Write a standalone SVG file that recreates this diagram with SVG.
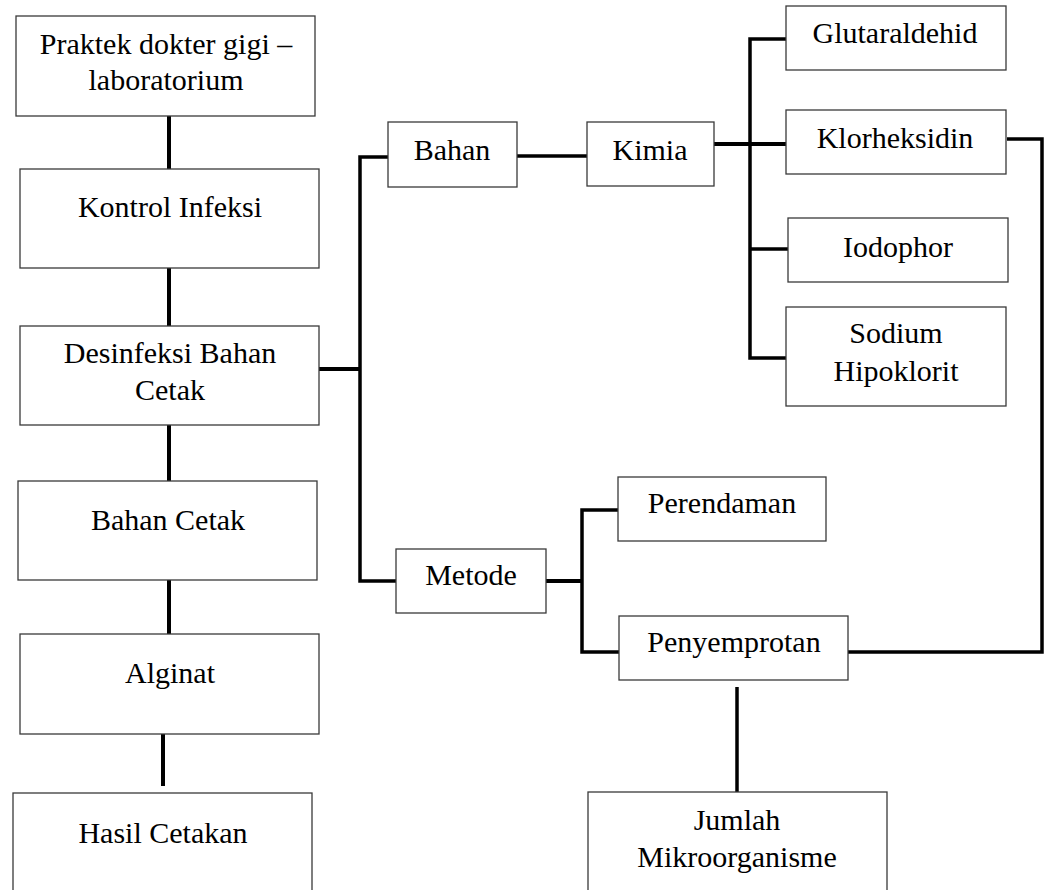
<svg xmlns="http://www.w3.org/2000/svg" width="1051" height="890" viewBox="0 0 1051 890">
  <style>
    .box { fill: #ffffff; stroke: #3a3a3a; stroke-width: 1.3; }
    .lbl { font-family: "Liberation Serif", "Times New Roman", serif; font-size: 30px; fill: #000000; text-anchor: middle; }
    .wire { fill: none; stroke: #000000; stroke-width: 3.5; stroke-linejoin: miter; stroke-linecap: butt; }
    .thick { stroke-width: 4; }
  </style>
  <rect x="0" y="0" width="1051" height="890" fill="#ffffff"/>

  <!-- connectors -->
  <g id="connectors">
    <!-- main vertical chain on the left -->
    <line class="wire thick" x1="169" y1="116" x2="169" y2="169"/>
    <line class="wire thick" x1="169" y1="268" x2="169" y2="326"/>
    <line class="wire thick" x1="169" y1="425" x2="169" y2="481"/>
    <line class="wire thick" x1="169" y1="580" x2="169" y2="634"/>
    <line class="wire thick" x1="163" y1="733" x2="163" y2="786"/>
    <!-- Desinfeksi branch to Bahan / Metode -->
    <line class="wire thick" x1="319" y1="369" x2="360" y2="369"/>
    <polyline class="wire" points="388,157 360,157 360,581 396,581"/>
    <!-- Bahan to Kimia -->
    <line class="wire" x1="517" y1="156" x2="587" y2="156"/>
    <!-- Kimia to chemical agents -->
    <line class="wire thick" x1="714" y1="144" x2="786" y2="144"/>
    <polyline class="wire" points="786,39 750,39 750,358 786,358"/>
    <line class="wire" x1="750" y1="249" x2="788" y2="249"/>
    <!-- Metode branch -->
    <line class="wire thick" x1="546" y1="581" x2="582" y2="581"/>
    <polyline class="wire" points="618,510 582,510 582,652 619,652"/>
    <!-- Klorheksidin to Penyemprotan loop -->
    <polyline class="wire" points="1007,139 1042,139 1042,652 848,652"/>
    <!-- Penyemprotan to Jumlah Mikroorganisme -->
    <line class="wire" x1="737" y1="687" x2="737" y2="792"/>
  </g>

  <g id="praktek">
    <rect class="box" x="16" y="16" width="299" height="100"/>
    <text class="lbl" x="166" y="54">Praktek dokter gigi –</text>
    <text class="lbl" x="166" y="90">laboratorium</text>
  </g>
  <g id="kontrol-infeksi">
    <rect class="box" x="20" y="169" width="299" height="99"/>
    <text class="lbl" x="170" y="217">Kontrol Infeksi</text>
  </g>
  <g id="desinfeksi">
    <rect class="box" x="20" y="326" width="299" height="99"/>
    <text class="lbl" x="170" y="363">Desinfeksi Bahan</text>
    <text class="lbl" x="170" y="400">Cetak</text>
  </g>
  <g id="bahan-cetak">
    <rect class="box" x="18" y="481" width="299" height="99"/>
    <text class="lbl" x="168" y="530">Bahan Cetak</text>
  </g>
  <g id="alginat">
    <rect class="box" x="20" y="634" width="299" height="100"/>
    <text class="lbl" x="170" y="683">Alginat</text>
  </g>
  <g id="hasil-cetakan">
    <rect class="box" x="13" y="793" width="299" height="120"/>
    <text class="lbl" x="163" y="843">Hasil Cetakan</text>
  </g>

  <g id="bahan">
    <rect class="box" x="388" y="122" width="129" height="65"/>
    <text class="lbl" x="452" y="160">Bahan</text>
  </g>
  <g id="kimia">
    <rect class="box" x="587" y="122" width="127" height="64"/>
    <text class="lbl" x="650" y="160">Kimia</text>
  </g>

  <g id="glutaraldehid">
    <rect class="box" x="786" y="6" width="220" height="64"/>
    <text class="lbl" x="895" y="43">Glutaraldehid</text>
  </g>
  <g id="klorheksidin">
    <rect class="box" x="786" y="110" width="220" height="64"/>
    <text class="lbl" x="895" y="148">Klorheksidin</text>
  </g>
  <g id="iodophor">
    <rect class="box" x="788" y="218" width="220" height="64"/>
    <text class="lbl" x="898" y="257">Iodophor</text>
  </g>
  <g id="sodium-hipoklorit">
    <rect class="box" x="786" y="307" width="220" height="99"/>
    <text class="lbl" x="896" y="343">Sodium</text>
    <text class="lbl" x="896" y="381">Hipoklorit</text>
  </g>

  <g id="metode">
    <rect class="box" x="396" y="549" width="150" height="64"/>
    <text class="lbl" x="471" y="585">Metode</text>
  </g>
  <g id="perendaman">
    <rect class="box" x="618" y="477" width="208" height="64"/>
    <text class="lbl" x="722" y="513">Perendaman</text>
  </g>
  <g id="penyemprotan">
    <rect class="box" x="619" y="616" width="229" height="64"/>
    <text class="lbl" x="734" y="652">Penyemprotan</text>
  </g>
  <g id="jumlah-mikroorganisme">
    <rect class="box" x="588" y="792" width="299" height="120"/>
    <text class="lbl" x="737" y="830">Jumlah</text>
    <text class="lbl" x="737" y="867">Mikroorganisme</text>
  </g>
</svg>
